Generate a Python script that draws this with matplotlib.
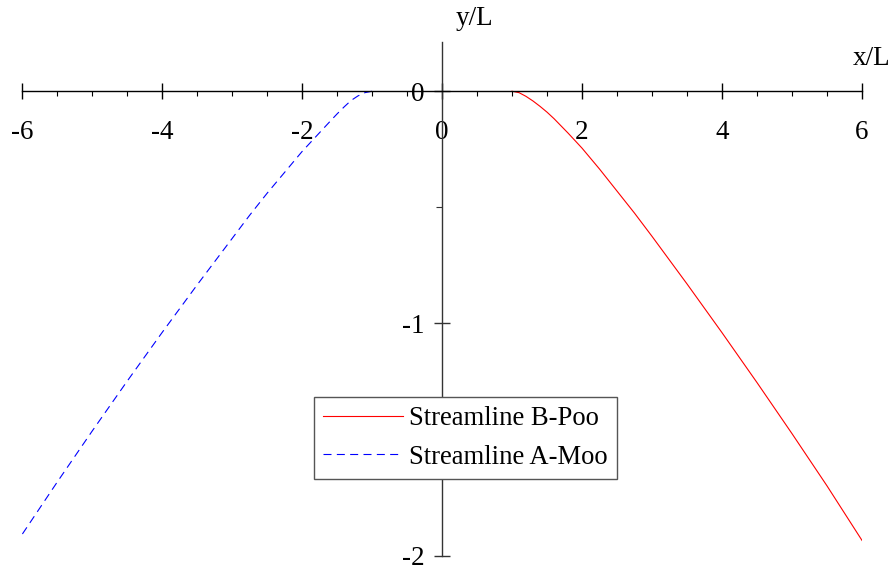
import numpy as np
import matplotlib
matplotlib.use("Agg")
import matplotlib.pyplot as plt
from matplotlib.ticker import FixedLocator, MultipleLocator

plt.rcParams['font.family'] = ['Liberation Serif', 'DejaVu Serif']
plt.rcParams['axes.unicode_minus'] = False

# streamline coordinates (x/L, y/L)
x_b = [1.0, 1.1, 1.2, 1.3, 1.4, 1.5, 1.6, 1.8, 2.0, 2.25, 2.5, 2.75, 3.0,
       3.5, 4.0, 4.5, 5.0, 5.5, 6.0]
y_b = [0.0, -0.006, -0.022, -0.042, -0.065, -0.09, -0.118, -0.18, -0.245,
       -0.335, -0.43, -0.525, -0.625, -0.83, -1.04, -1.255, -1.475, -1.70, -1.935]

x_a = [-1.0, -1.1, -1.2, -1.3, -1.4, -1.5, -1.6, -1.8, -2.0, -2.25, -2.5,
       -2.75, -3.0, -3.5, -4.0, -4.5, -5.0, -5.5, -6.0]
y_a = [0.0, -0.006, -0.02, -0.04, -0.068, -0.098, -0.13, -0.195, -0.26,
       -0.35, -0.44, -0.535, -0.635, -0.835, -1.04, -1.25, -1.465, -1.685, -1.91]

x_ticks = [-6, -4, -2, 0, 2, 4, 6]
x_ticklabels = ['-6', '-4', '-2', '0', '2', '4', '6']
y_ticks = [-2, -1, 0]
y_ticklabels = ['-2', '-1', '0']

fig = plt.figure(figsize=(8.9, 5.7), dpi=100)
ax = fig.add_axes([22 / 890, 14.5 / 570, 840 / 890, 513 / 570])

ax.plot(x_b, y_b, color='red', lw=0.8, label='Streamline B-Poo')
ax.plot(x_a, y_a, color='blue', lw=0.8, linestyle=(0, (7.2, 4.8)), label='Streamline A-Moo')

ax.set_xlim(-6, 6)
ax.set_ylim(-2, 0.21)

for side in ['top', 'right']:
    ax.spines[side].set_visible(False)
ax.spines['left'].set_position(('data', 0))
ax.spines['bottom'].set_position(('data', 0))
ax.spines['left'].set_color('#333333')
ax.spines['bottom'].set_color('black')
ax.spines['left'].set_linewidth(1.0)
ax.spines['bottom'].set_linewidth(1.0)

ax.xaxis.set_major_locator(FixedLocator(x_ticks))
ax.set_xticklabels(x_ticklabels)
ax.xaxis.set_minor_locator(MultipleLocator(0.5))
ax.yaxis.set_major_locator(FixedLocator(y_ticks))
ax.set_yticklabels(y_ticklabels)
ax.yaxis.set_minor_locator(MultipleLocator(0.5))

ax.tick_params(axis='x', which='major', direction='inout', length=11, width=1,
               labelsize=19.5, pad=15)
ax.tick_params(axis='x', which='minor', direction='out', length=3.3, width=0.8)
ax.tick_params(axis='y', which='major', direction='inout', length=11, width=1,
               labelsize=19.5, pad=7, color='#333333')
ax.tick_params(axis='y', which='minor', direction='out', length=4.5, width=0.8,
               color='#333333')

ax.text(6.14, 0.14, 'x/L', fontsize=19.5, ha='center', va='center', clip_on=False)
ax.text(0.47, 0.313, 'y/L', fontsize=19.5, ha='center', va='center', clip_on=False)

leg = ax.legend(loc='upper left', bbox_to_anchor=(314 / 890, 1 - 397 / 570),
                bbox_transform=fig.transFigure, fontsize=19.2, frameon=True,
                fancybox=False, edgecolor='#555555', framealpha=1,
                borderaxespad=0, borderpad=0.35, handlelength=3.0,
                handletextpad=0.2, labelspacing=0.5)
leg.get_frame().set_linewidth(1.0)

fig.savefig('out.png', dpi=100)
